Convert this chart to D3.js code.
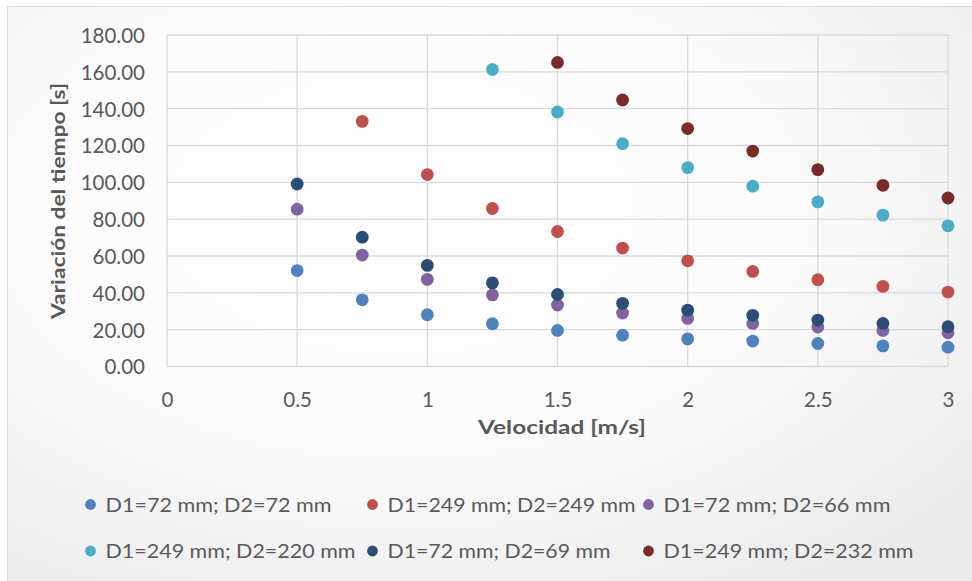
<!DOCTYPE html>
<html>
<head>
<meta charset="utf-8">
<script src="https://cdn.jsdelivr.net/npm/d3@7"></script>
<style>
  html, body { margin: 0; padding: 0; background: #fff; }
  svg { display: block; }
  text { font-family: Lato, "Open Sans", sans-serif; }
</style>
</head>
<body>
<svg id="chart" width="972" height="581"></svg>
<script>
// ---- data ----
const velocities = [0.5, 0.75, 1.0, 1.25, 1.5, 1.75, 2.0, 2.25, 2.5, 2.75, 3.0];
const seriesNames = [
  "D1=72 mm; D2=72 mm",
  "D1=249 mm; D2=249 mm",
  "D1=72 mm; D2=66 mm",
  "D1=249 mm; D2=220 mm",
  "D1=72 mm; D2=69 mm",
  "D1=249 mm; D2=232 mm"
];
const seriesColors = ["#4f81bd", "#c0504d", "#8064a2", "#4bacc6", "#2c4d75", "#772c2a"];
const s1 = [52.1, 36.2, 28.1, 23.2, 19.6, 17.0, 15.0, 13.8, 12.5, 11.2, 10.5];
const s2 = [null, 133.1, 104.2, 85.8, 73.3, 64.3, 57.4, 51.6, 47.1, 43.5, 40.4];
const s3 = [85.4, 60.5, 47.3, 38.9, 33.4, 29.0, 26.1, 23.4, 21.4, 19.6, 18.3];
const s4 = [null, null, null, 161.3, 138.2, 121.0, 108.0, 97.9, 89.4, 82.2, 76.4];
const s5 = [99.1, 70.2, 54.9, 45.4, 39.1, 34.3, 30.6, 27.8, 25.2, 23.4, 21.6];
const s6 = [null, null, null, null, 165.1, 144.7, 129.2, 117.0, 106.9, 98.4, 91.5];
const seriesValues = [s1, s2, s3, s4, s5, s6];
const xTicks = [0, 0.5, 1, 1.5, 2, 2.5, 3];
const yTicks = [0, 20, 40, 60, 80, 100, 120, 140, 160, 180];
const xTitle = "Velocidad [m/s]";
const yTitle = "Variación del tiempo [s]";

// ---- layout ----
const svg = d3.select("#chart");
const W = 972, H = 581;
const plot = { left: 167, right: 948, top: 35, bottom: 366.5 };

const defs = svg.append("defs");
const grad = defs.append("radialGradient").attr("id", "bg")
  .attr("cx", "40%").attr("cy", "35%").attr("r", "75%");
grad.append("stop").attr("offset", "0%").attr("stop-color", "#ffffff");
grad.append("stop").attr("offset", "55%").attr("stop-color", "#fbfbfb");
grad.append("stop").attr("offset", "100%").attr("stop-color", "#ebebeb");

svg.append("rect").attr("x", 0).attr("y", 0).attr("width", W).attr("height", H).attr("fill", "#ffffff");
svg.append("rect").attr("x", 7.5).attr("y", 6.5).attr("width", W + 10).attr("height", H + 10)
  .attr("fill", "url(#bg)").attr("stroke", "#d9d9d9").attr("stroke-width", 1);

const x = d3.scaleLinear().domain([0, 3]).range([plot.left, plot.right]);
const y = d3.scaleLinear().domain([0, 180]).range([plot.bottom, plot.top]);

// gridlines
const grid = svg.append("g");
grid.selectAll(".hg").data(yTicks).join("line")
  .attr("x1", plot.left).attr("x2", plot.right)
  .attr("y1", d => y(d)).attr("y2", d => y(d))
  .attr("stroke", "#d9d9d9").attr("stroke-width", 1.3);
grid.selectAll(".vg").data(xTicks).join("line")
  .attr("x1", d => x(d)).attr("x2", d => x(d))
  .attr("y1", plot.top).attr("y2", plot.bottom)
  .attr("stroke", "#d9d9d9").attr("stroke-width", 1.3);

// axes (labels only)
const yAxis = d3.axisLeft(y).tickValues(yTicks).tickFormat(d3.format(".2f")).tickSize(0).tickPadding(22);
const gy = svg.append("g").attr("transform", `translate(${plot.left},0)`).call(yAxis);
gy.select(".domain").remove();
gy.selectAll("text").attr("fill", "#595959").style("font-size", "20.5px").attr("dy", "0.36em");

const xAxis = d3.axisBottom(x).tickValues(xTicks).tickFormat(d => String(d)).tickSize(0).tickPadding(26);
const gx = svg.append("g").attr("transform", `translate(0,${plot.bottom})`).call(xAxis);
gx.select(".domain").remove();
gx.selectAll("text").attr("fill", "#595959").style("font-size", "20.5px");

// titles
svg.append("text").attr("x", 562).attr("y", 433.5).attr("text-anchor", "middle")
  .attr("fill", "#595959").style("font-size", "19.5px").style("font-weight", "bold")
  .attr("textLength", 168).attr("lengthAdjust", "spacingAndGlyphs").text(xTitle);
svg.append("text").attr("transform", "translate(65,201) rotate(-90)").attr("text-anchor", "middle")
  .attr("fill", "#595959").style("font-size", "19.5px").style("font-weight", "bold")
  .attr("textLength", 236).attr("lengthAdjust", "spacingAndGlyphs").text(yTitle);

// points
seriesValues.forEach((vals, i) => {
  const pts = velocities.map((v, j) => ({ v, t: vals[j] })).filter(d => d.t != null);
  svg.append("g").selectAll("circle").data(pts).join("circle")
    .attr("cx", d => x(d.v)).attr("cy", d => y(d.t)).attr("r", 6.4)
    .attr("fill", seriesColors[i]);
});

// legend
const legendPos = [
  [90.5, 504.5, 226], [372.5, 504.5, 248], [648.5, 504.5, 227],
  [90.5, 551, 250], [372.5, 551, 223], [648.5, 551, 250]
];
const lg = svg.append("g");
seriesNames.forEach((name, i) => {
  const [lx, ly, tw] = legendPos[i];
  lg.append("circle").attr("cx", lx).attr("cy", ly).attr("r", 5.4).attr("fill", seriesColors[i]);
  lg.append("text").attr("x", lx + 15).attr("y", ly + 7.2)
    .attr("fill", "#595959").style("font-size", "19px")
    .attr("textLength", tw).attr("lengthAdjust", "spacingAndGlyphs").text(name);
});
</script>
</body>
</html>
